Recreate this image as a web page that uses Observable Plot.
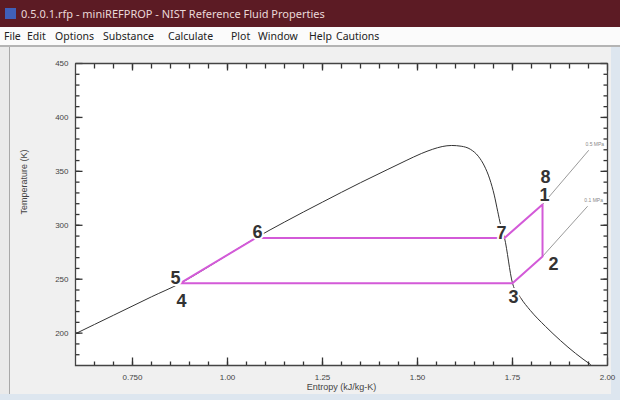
<!DOCTYPE html>
<html><head><meta charset="utf-8">
<script src="https://cdn.jsdelivr.net/npm/d3@7"></script>
<script src="https://cdn.jsdelivr.net/npm/@observablehq/plot@0.6"></script>
<style>
html,body{margin:0;padding:0;}
body{width:620px;height:400px;overflow:hidden;background:#dde6ef;font-family:"Noto Sans",sans-serif;}
#title{position:relative;width:620px;height:27px;background:#5c1b24;color:#ead8d8;font-size:11px;line-height:27px;}
#icon{position:absolute;left:5px;top:8px;width:11px;height:11px;background:#4060b8;}
#title span{position:absolute;left:21px;}
#menu{position:relative;width:620px;height:18px;background:#fbfbfb;font-size:10.5px;line-height:18px;color:#222;}
#menu span{position:absolute;top:0;}
#sep{width:620px;height:2px;background:#b4b4b4;}
#row{display:flex;height:347px;}
#lstrip{width:9px;height:347px;background:#eaeaea;border-right:1px solid #a8a8a8;}
#client{width:601px;height:347px;background:#f0f0f0;}
#client svg{display:block;overflow:visible;background:transparent;color:#444;font-family:"Liberation Sans",Arial,sans-serif;font-size:8px;}
</style>
</head><body>
<div id="title"><div id="icon"></div><span>0.5.0.1.rfp - miniREFPROP - NIST Reference Fluid Properties</span></div>
<div id="menu"></div>
<div id="sep"></div>
<div id="row"><div id="lstrip"></div><div id="client"></div></div>
<script>
// menu
const menuItems = ["File","Edit","Options","Substance","Calculate","Plot","Window","Help","Cautions"];
const menuX = [4,27,55,103,168,231,258,309,336];

// saturation dome (entropy kJ/kg-K, temperature K)
const domeS = [0.600,0.700,0.800,0.876,0.950,1.000,1.074,1.150,1.250,1.350,1.420,1.470,1.510,1.540,1.565,1.590,1.615,1.639,1.660,1.676,1.690,1.702,1.711,1.719,1.729,1.750,1.771,1.797,1.837,1.876,1.916,1.955];
const domeT = [199.5,216.6,233.7,246.3,261.6,272.5,288.2,303,321.5,339.5,351.5,360,366.5,370.5,373,374,373.3,370.5,364,355,343,328,313,300,288.2,246.3,233,221,206.2,193.2,181.2,171];

// cycle path 5-6-7-1-2-3-5
const cycleS = [0.876,1.074,1.729,1.829,1.829,1.750,0.876];
const cycleT = [246.3,288.2,288.2,319.3,271.1,246.3,246.3];

// isobars
const isoName = ["0.5 MPa","0.5 MPa","0.1 MPa","0.1 MPa"];
const isoS = [1.829,1.950,1.829,1.947];
const isoT = [319.3,369.3,271.1,317.4];

// state point labels
const ptLabel = ["1","2","3","4","5","6","7","8"];
const ptS = [1.829,1.829,1.750,0.876,0.876,1.074,1.729,1.829];
const ptT = [319.3,271.1,246.3,246.3,246.3,288.2,288.2,319.3];

// axes
const xDomain = [0.6, 2.0];
const yDomain = [170, 450];
const xMajor = [0.75,1.0,1.25,1.5,1.75,2.0];
const xLabels = ["0.750","1.00","1.25","1.50","1.75","2.00"];
const yMajor = [200,250,300,350,400,450];
const yLabels = ["200","250","300","350","400","450"];

// ---- layout ----
const W = 601, H = 347, ML = 65, MR = 4, MT = 16, MB = 29;
const FW = W - ML - MR, FH = H - MT - MB;
const labelOffset = {"1":[2,-9],"2":[11,8],"3":[1,14],"4":[1,18],"5":[-5,-5],"6":[2,-6],"7":[-3,-5],"8":[3,-27]};

const menu = document.getElementById("menu");
menuItems.forEach((m,i)=>{const s=document.createElement("span");s.textContent=m;s.style.left=menuX[i]+"px";menu.appendChild(s);});

const dome = domeS.map((s,i)=>({s, T: domeT[i]}));
const cycle = cycleS.map((s,i)=>({s, T: cycleT[i]}));
const iso = isoS.map((s,i)=>({s, T: isoT[i], name: isoName[i]}));
const isoEnds = iso.filter((d,i)=> i%2===1);
const pts = ptLabel.map((l,i)=>({l, s: ptS[i], T: ptT[i]}));
const xMinor = d3.range(13,40).map(k=>+(k*0.05).toFixed(2));
const yMinor = d3.range(18,45).map(k=>k*10);
const xFmt = new Map(xMajor.map((v,i)=>[v,xLabels[i]]));
const yFmt = new Map(yMajor.map((v,i)=>[v,yLabels[i]]));

// frame outline and inward tick segments, drawn as line paths
const kx = FW / (xDomain[1] - xDomain[0]);
const ky = FH / (yDomain[1] - yDomain[0]);
const box = [[xDomain[0],yDomain[0]],[xDomain[1],yDomain[0]],[xDomain[1],yDomain[1]],[xDomain[0],yDomain[1]],[xDomain[0],yDomain[0]]].map(([s,T])=>({s,T}));
const segs = [];
const addX = (vals, len, side) => vals.forEach(v => {
  const y0 = side === "b" ? yDomain[0] : yDomain[1];
  const y1 = side === "b" ? y0 + len/ky : y0 - len/ky;
  segs.push({s: v, T: y0, k: side+v+"_"+len}, {s: v, T: y1, k: side+v+"_"+len});
});
const addY = (vals, len, side) => vals.forEach(v => {
  const x0 = side === "l" ? xDomain[0] : xDomain[1];
  const x1 = side === "l" ? x0 + len/kx : x0 - len/kx;
  segs.push({s: x0, T: v, k: side+v+"_"+len}, {s: x1, T: v, k: side+v+"_"+len});
});
addX(xMinor, 4, "b"); addX(xMajor, 8, "b");
addX(xMinor, 5, "t"); addX(xMajor, 7, "t");
addY(yMinor, 4, "l"); addY(yMajor, 7, "l");
addY(yMinor, 4, "r"); addY(yMajor, 7, "r");

const magenta = "#d35ad8";
const labelMarks = ptLabel.map(l => Plot.text(pts.filter(d=>d.l===l), {
  x:"s", y:"T", text:"l", dx: labelOffset[l][0], dy: labelOffset[l][1],
  fontSize: 18, fontWeight: "bold", fill: "#333", stroke: "white", strokeWidth: 4,
  fontFamily: "Liberation Sans, Arial, sans-serif"
}));

const chart = Plot.plot({
  width: W, height: H,
  marginLeft: ML, marginRight: MR, marginTop: MT, marginBottom: MB,
  x: {domain: xDomain, label: null},
  y: {domain: yDomain, label: null},
  marks: [
    Plot.frame({fill: "white", stroke: null}),
    Plot.line(iso, {x:"s", y:"T", z:"name", stroke:"#9a9a9a", strokeWidth: 1}),
    Plot.text(isoEnds, {x:"s", y:"T", text:"name", fontSize: 5, fill:"#888", textAnchor:"start", dx:-3, dy:-6}),
    Plot.line(dome, {x:"s", y:"T", stroke:"#333", strokeWidth: 1, curve: "monotone-x"}),
    Plot.line(cycle, {x:"s", y:"T", stroke: magenta, strokeWidth: 2}),
    ...labelMarks,
    Plot.line(segs, {x:"s", y:"T", z:"k", stroke:"#333", strokeWidth: 1.3, strokeLinecap: "butt"}),
    Plot.line(box, {x:"s", y:"T", stroke:"#444", strokeWidth: 1.3, strokeLinecap: "square", strokeLinejoin: "miter"}),
    Plot.axisX({anchor:"bottom", ticks: xMajor, tickSize: 0, tickPadding: 9, tickFormat: d => xFmt.get(d), fill:"#444"}),
    Plot.axisY({anchor:"left", ticks: yMajor, tickSize: 0, tickPadding: 7, tickFormat: d => yFmt.get(d), fill:"#444"}),
    Plot.text(["Entropy (kJ/kg-K)"], {text: d => d, frameAnchor: "bottom", dy: 24, fontSize: 9, fill: "#444"}),
    Plot.text(["Temperature (K)"], {text: d => d, frameAnchor: "left", dx: -51, rotate: -90, fontSize: 9, fill: "#444"})
  ]
});
document.getElementById("client").appendChild(chart);
</script>
</body></html>
